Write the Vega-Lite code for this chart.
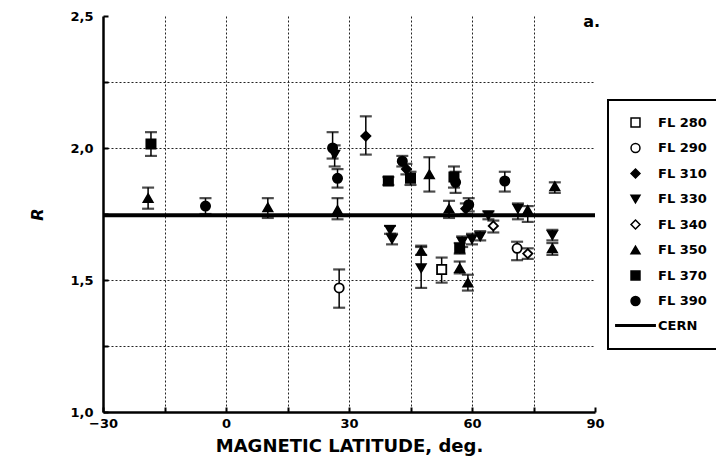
{
  "$schema": "https://vega.github.io/schema/vega-lite/v6.json",
  "width": 492,
  "height": 396,
  "autosize": {"type": "none"},
  "padding": {"left": 103, "top": 16, "right": 121, "bottom": 57},
  "background": "white",
  "config": {"view": {"stroke": null}, "font": "DejaVu Sans", "axis": {"gridDash": [2, 2], "gridWidth": 1}, "legend": {"strokeColor": "black", "strokeWidth": 2}},
  "title": {"text": "a.", "anchor": "end", "frame": "group", "orient": "top", "offset": -10, "dy": 10, "dx": 5, "fontSize": 16, "fontWeight": "bold", "font": "DejaVu Sans", "color": "black"},
  "data": {"values": [
    {"series": "FL 370", "lat": -18.3, "R": 2.015, "lo": 1.97, "hi": 2.06},
    {"series": "FL 350", "lat": -19, "R": 1.81, "lo": 1.77, "hi": 1.85},
    {"series": "FL 390", "lat": -5, "R": 1.78, "lo": 1.75, "hi": 1.81},
    {"series": "FL 350", "lat": 10.2, "R": 1.775, "lo": 1.735, "hi": 1.81},
    {"series": "FL 390", "lat": 26, "R": 2.0, "lo": 1.96, "hi": 2.06},
    {"series": "FL 330", "lat": 26.5, "R": 1.975, "lo": 1.93, "hi": 2.01},
    {"series": "FL 390", "lat": 27.2, "R": 1.885, "lo": 1.85, "hi": 1.92},
    {"series": "FL 350", "lat": 27.2, "R": 1.765, "lo": 1.73, "hi": 1.81},
    {"series": "FL 290", "lat": 27.6, "R": 1.47, "lo": 1.395, "hi": 1.54},
    {"series": "FL 310", "lat": 34.1, "R": 2.045, "lo": 1.975, "hi": 2.12},
    {"series": "FL 370", "lat": 39.6, "R": 1.875, "lo": 1.86, "hi": 1.89},
    {"series": "FL 330", "lat": 40, "R": 1.69, "lo": 1.675, "hi": 1.705},
    {"series": "FL 330", "lat": 40.5, "R": 1.655, "lo": 1.635, "hi": 1.675},
    {"series": "FL 390", "lat": 43, "R": 1.95, "lo": 1.93, "hi": 1.97},
    {"series": "FL 310", "lat": 44, "R": 1.92, "lo": 1.9, "hi": 1.94},
    {"series": "FL 370", "lat": 45, "R": 1.885, "lo": 1.86, "hi": 1.91},
    {"series": "FL 350", "lat": 49.6, "R": 1.9, "lo": 1.835, "hi": 1.965},
    {"series": "FL 350", "lat": 47.6, "R": 1.61, "lo": 1.595, "hi": 1.625},
    {"series": "FL 330", "lat": 47.6, "R": 1.545, "lo": 1.47, "hi": 1.63},
    {"series": "FL 280", "lat": 52.6, "R": 1.54, "lo": 1.49, "hi": 1.585},
    {"series": "FL 350", "lat": 54.4, "R": 1.77, "lo": 1.735, "hi": 1.8},
    {"series": "FL 370", "lat": 55.6, "R": 1.89, "lo": 1.85, "hi": 1.93},
    {"series": "FL 390", "lat": 56, "R": 1.87, "lo": 1.83, "hi": 1.91},
    {"series": "FL 370", "lat": 57, "R": 1.62, "lo": 1.6, "hi": 1.64},
    {"series": "FL 330", "lat": 57.6, "R": 1.645, "lo": 1.625, "hi": 1.665},
    {"series": "FL 350", "lat": 57, "R": 1.545, "lo": 1.525, "hi": 1.57},
    {"series": "FL 350", "lat": 59, "R": 1.49, "lo": 1.46, "hi": 1.52},
    {"series": "FL 330", "lat": 60, "R": 1.655, "lo": 1.635, "hi": 1.675},
    {"series": "FL 330", "lat": 62, "R": 1.665, "lo": 1.65, "hi": 1.685},
    {"series": "FL 390", "lat": 59.2, "R": 1.785, "lo": 1.76, "hi": 1.81},
    {"series": "FL 310", "lat": 58.5, "R": 1.77, "lo": 1.75, "hi": 1.79},
    {"series": "FL 330", "lat": 64, "R": 1.745, "lo": 1.73, "hi": 1.76},
    {"series": "FL 340", "lat": 65.2, "R": 1.705, "lo": 1.68, "hi": 1.725},
    {"series": "FL 390", "lat": 68, "R": 1.875, "lo": 1.835, "hi": 1.91},
    {"series": "FL 330", "lat": 71.2, "R": 1.77, "lo": 1.73, "hi": 1.79},
    {"series": "FL 350", "lat": 73.6, "R": 1.765, "lo": 1.72, "hi": 1.78},
    {"series": "FL 290", "lat": 71, "R": 1.62, "lo": 1.575, "hi": 1.645},
    {"series": "FL 340", "lat": 73.6, "R": 1.6, "lo": 1.58, "hi": 1.62},
    {"series": "FL 330", "lat": 79.6, "R": 1.67, "lo": 1.65, "hi": 1.69},
    {"series": "FL 350", "lat": 79.6, "R": 1.62, "lo": 1.595, "hi": 1.64},
    {"series": "FL 350", "lat": 80.2, "R": 1.855, "lo": 1.83, "hi": 1.87}
  ]},
  "layer": [
    {
      "data": {"values": [{"R": 1.745}]},
      "mark": {"type": "rule", "strokeWidth": 4, "color": "black"},
      "encoding": {
        "y": {"field": "R", "type": "quantitative", "scale": {"domain": [1, 2.5], "nice": false, "zero": false}, "title": "R"}
      }
    },
    {
      "mark": {"type": "errorbar", "color": "black", "thickness": 1.5, "ticks": {"size": 12, "thickness": 2.2, "color": "black"}},
      "encoding": {
        "x": {"field": "lat", "type": "quantitative", "scale": {"domain": [-30, 90], "nice": false, "zero": false}, "title": "MAGNETIC LATITUDE, deg."},
        "y": {"field": "lo", "type": "quantitative", "scale": {"domain": [1, 2.5], "nice": false, "zero": false}, "title": "R"},
        "y2": {"field": "hi"}
      }
    },
    {
      "mark": {"type": "point", "stroke": "black", "strokeWidth": 1.8, "size": 85, "opacity": 1, "fillOpacity": 1},
      "encoding": {
        "x": {"field": "lat", "type": "quantitative", "scale": {"domain": [-30, 90], "nice": false, "zero": false},
          "axis": {"values": [-30, -15, 0, 15, 30, 45, 60, 75, 90], "labelExpr": "datum.value % 30 == 0 ? datum.label : ''",
            "grid": true,
            "gridColor": {"condition": {"test": "datum.value <= -30 || datum.value >= 90", "value": "transparent"}, "value": "#222"},
            "domainColor": "black", "domainWidth": 2.5, "tickColor": "black", "tickSize": -5, "tickWidth": 2,
            "labelFont": "DejaVu Sans", "labelFontWeight": "bold", "labelFontSize": 13, "labelColor": "black", "labelPadding": 10, "labelFlush": false,
            "title": "MAGNETIC LATITUDE, deg.", "titleFont": "DejaVu Sans", "titleFontWeight": "bold", "titleFontSize": 18, "titleColor": "black", "titlePadding": 7}},
        "y": {"field": "R", "type": "quantitative", "scale": {"domain": [1, 2.5], "nice": false, "zero": false},
          "axis": {"values": [1, 1.25, 1.5, 1.75, 2, 2.25, 2.5], "labelExpr": "(datum.value * 4) % 2 == 0 ? replace(format(datum.value, '.1f'), '.', ',') : ''",
            "grid": true,
            "gridColor": {"condition": {"test": "datum.value <= 1 || datum.value >= 2.5", "value": "transparent"}, "value": "#222"},
            "domainColor": "black", "domainWidth": 2.5, "tickColor": "black", "tickSize": -5, "tickWidth": 2,
            "labelFont": "DejaVu Sans", "labelFontWeight": "bold", "labelFontSize": 13, "labelColor": "black", "labelPadding": 15, "labelFlush": false,
            "title": "R", "titleFont": "DejaVu Sans", "titleFontWeight": "bold", "titleFontStyle": "italic", "titleFontSize": 16, "titleColor": "black", "titlePadding": 24}},
        "shape": {"field": "series", "type": "nominal",
          "scale": {"domain": ["FL 280", "FL 290", "FL 310", "FL 330", "FL 340", "FL 350", "FL 370", "FL 390", "CERN"],
            "range": ["square", "circle", "diamond", "triangle-down", "diamond", "triangle-up", "square", "circle", "M-4.4,-0.15H4.4V0.15H-4.4Z"]},
          "legend": {"title": null, "orient": "none", "legendX": 505, "legendY": 84, "padding": 16, "rowPadding": 10.5,
            "strokeColor": "black", "fillColor": "white",
            "labelFont": "DejaVu Sans", "labelFontWeight": "bold", "labelFontSize": 13, "labelColor": "black",
            "symbolSize": 80, "symbolOpacity": 1, "symbolOffset": 5, "labelOffset": 16,
            "encode": {"symbols": {"update": {"stroke": {"value": "black"}, "strokeWidth": {"value": 1.8}}}}}},
        "fill": {"field": "series", "type": "nominal",
          "scale": {"domain": ["FL 280", "FL 290", "FL 310", "FL 330", "FL 340", "FL 350", "FL 370", "FL 390", "CERN"],
            "range": ["white", "white", "black", "black", "white", "black", "black", "black", "black"]},
          "legend": {"title": null, "orient": "none", "legendX": 505, "legendY": 84, "padding": 16, "rowPadding": 10.5,
            "strokeColor": "black", "fillColor": "white",
            "labelFont": "DejaVu Sans", "labelFontWeight": "bold", "labelFontSize": 13, "labelColor": "black",
            "symbolSize": 80, "symbolOpacity": 1, "symbolOffset": 5, "labelOffset": 16,
            "encode": {"symbols": {"update": {"stroke": {"value": "black"}, "strokeWidth": {"value": 1.8}}}}}}
      }
    }
  ]
}
